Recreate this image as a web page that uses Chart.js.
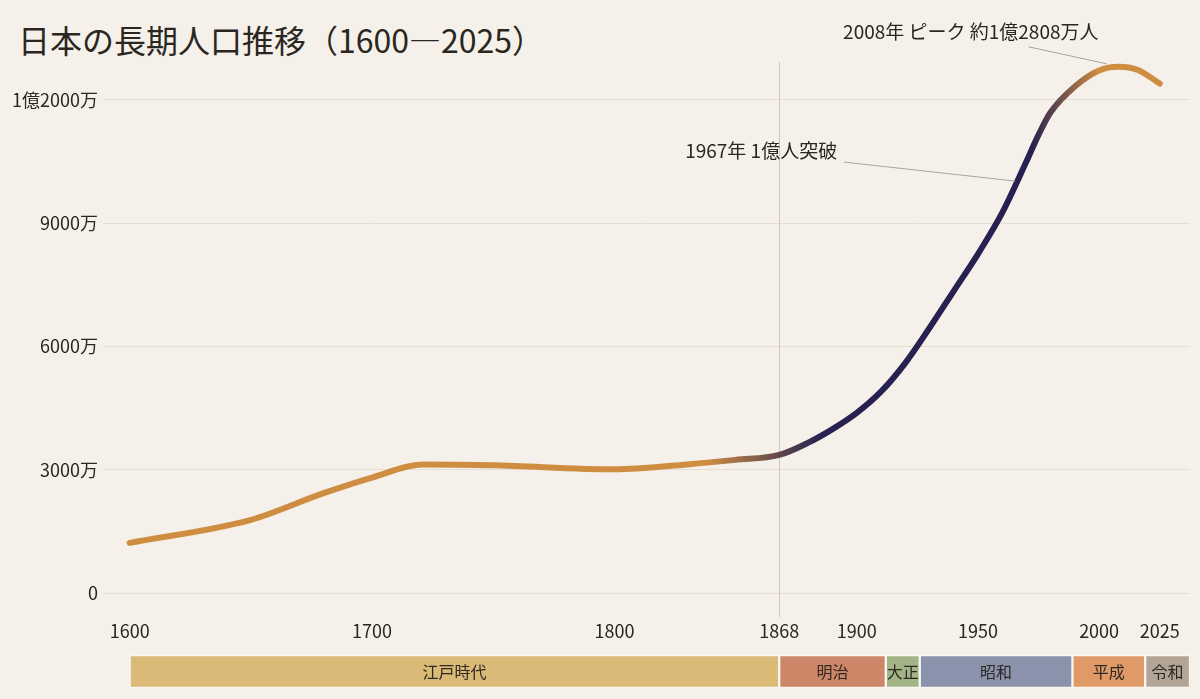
<!DOCTYPE html>
<html lang="ja">
<head>
<meta charset="utf-8">
<title>日本の長期人口推移</title>
<script src="https://cdn.jsdelivr.net/npm/chart.js@4.4.1/dist/chart.umd.min.js"></script>
<style>
  html, body { margin: 0; padding: 0; background: #f5f1ea; }
  body { width: 1200px; height: 699px; position: relative; overflow: hidden;
         font-family: "Noto Sans CJK JP", "Noto Sans", sans-serif; }
  h1 { position: absolute; left: 18px; top: 20px; margin: 0; font-size: 32px;
       font-weight: 400; color: #2b2620; line-height: 1.2; }
  #main { position: absolute; left: 0; top: 0; width: 1200px; height: 650px; }
  #eras { position: absolute; left: 0; top: 650px; width: 1200px; height: 49px; }
</style>
</head>
<body>
<h1>日本の長期人口推移（1600—2025）</h1>
<div id="main"><canvas id="c1"></canvas></div>
<div id="eras"><canvas id="c2"></canvas></div>
<script>
// 人口（万人）
const years = [1600, 1650, 1680, 1700, 1721, 1750, 1800, 1830, 1850, 1868, 1880, 1890, 1900,
  1910, 1920, 1930, 1940, 1950, 1960, 1970, 1975, 1980, 1990, 2000, 2008, 2016, 2025];
const population = [1220, 1780, 2430, 2810, 3128, 3110, 3010, 3130, 3240, 3360, 3660, 3990, 4385,
  4900, 5596, 6450, 7350, 8250, 9250, 10500, 11150, 11700, 12330, 12720, 12808, 12730, 12400];

const xTicks = [1600, 1700, 1800, 1868, 1900, 1950, 2000, 2025];
const yTicks = [0, 3000, 6000, 9000, 12000];

// 時代区分
const eras = ['江戸時代', '明治', '大正', '昭和', '平成', '令和'];
const eraStart = [1600, 1868, 1912, 1926, 1989, 2019];
const eraEnd = [1868, 1912, 1926, 1989, 2019, 2037.5];
const eraColors = ['#dbb977', '#ce8668', '#a3b487', '#8a92ac', '#e09a68', '#b2a596'];

const X_MIN = 1589, X_MAX = 2037.5;
const FONT = '"Noto Sans CJK JP", "Noto Sans", sans-serif';
const ORANGE = '#cf8d42';
const NAVY = '#262150';

Chart.defaults.font.family = FONT;
Chart.defaults.color = '#3a342c';

function fmtMan(v) {
  if (v === 0) return '0';
  if (v >= 10000) return Math.floor(v / 10000) + '億' + (v % 10000) + '万';
  return v + '万';
}

function lineGradient(context) {
  const chart = context.chart;
  const area = chart.chartArea;
  if (!area) return ORANGE;
  const g = chart.ctx.createLinearGradient(area.left, 0, area.right, 0);
  const f = y => (y - X_MIN) / (X_MAX - X_MIN);
  g.addColorStop(0, ORANGE);
  g.addColorStop(f(1838), ORANGE);
  g.addColorStop(f(1885), NAVY);
  g.addColorStop(f(1972), NAVY);
  g.addColorStop(f(2000), ORANGE);
  g.addColorStop(1, ORANGE);
  return g;
}

// 1868年の縦線と注記
const notes = {
  id: 'notes',
  beforeDatasetsDraw(chart) {
    const { ctx, scales: { x } } = chart;
    const px = Math.round(x.getPixelForValue(1868)) + 0.5;
    ctx.save();
    ctx.strokeStyle = '#cdc6bb';
    ctx.lineWidth = 1;
    ctx.beginPath();
    ctx.moveTo(px, chart.chartArea.top - 1);
    ctx.lineTo(px, chart.chartArea.bottom + 24);
    ctx.stroke();
    ctx.restore();
  },
  afterDatasetsDraw(chart) {
    const { ctx, scales: { x, y } } = chart;
    ctx.save();
    ctx.font = '19px ' + FONT;
    ctx.fillStyle = '#2b2620';
    ctx.strokeStyle = '#aaa398';
    ctx.lineWidth = 1;
    ctx.textBaseline = 'middle';

    // ピーク
    let px = x.getPixelForValue(2008), py = y.getPixelForValue(12808);
    ctx.beginPath();
    ctx.moveTo(px - 90, py - 20);
    ctx.lineTo(px - 12, py - 3);
    ctx.stroke();
    ctx.textAlign = 'right';
    ctx.fillText('2008年 ピーク 約1億2808万人', px - 20, py - 35);

    // 1億人突破
    px = x.getPixelForValue(1967); py = y.getPixelForValue(10050);
    ctx.beginPath();
    ctx.moveTo(px - 175, py - 18);
    ctx.lineTo(px - 4, py + 1);
    ctx.stroke();
    ctx.fillText('1967年 1億人突破', px - 182, py - 29);
    ctx.restore();
  }
};

new Chart(document.getElementById('c1'), {
  type: 'line',
  data: {
    datasets: [{
      label: '人口',
      data: years.map((yr, i) => ({ x: yr, y: population[i] })),
      borderColor: lineGradient,
      borderWidth: 6,
      borderCapStyle: 'round',
      borderJoinStyle: 'round',
      cubicInterpolationMode: 'monotone',
      pointRadius: 0,
      fill: false
    }]
  },
  options: {
    responsive: true,
    maintainAspectRatio: false,
    animation: false,
    layout: { padding: { top: 63, right: 10, bottom: 8, left: 0 } },
    plugins: { legend: { display: false }, tooltip: { enabled: false } },
    scales: {
      x: {
        type: 'linear',
        min: X_MIN,
        max: X_MAX,
        afterBuildTicks: s => { s.ticks = xTicks.map(v => ({ value: v })); },
        afterFit: s => { s.height = 49; s.paddingLeft = 0; s.paddingRight = 0; },
        grid: { display: false, drawTicks: false },
        border: { display: false },
        ticks: {
          padding: 27,
          font: { size: 18 },
          color: '#2b2620',
          autoSkip: false,
          maxRotation: 0,
          callback: v => String(v)
        }
      },
      y: {
        min: 0,
        max: 12900,
        afterBuildTicks: s => { s.ticks = yTicks.map(v => ({ value: v })); },
        afterFit: s => { s.width = 103; s.paddingTop = 0; s.paddingBottom = 0; },
        grid: { color: '#e4ded4', lineWidth: 1, drawTicks: false },
        border: { display: false },
        ticks: {
          padding: 5,
          font: { size: 18 },
          color: '#2b2620',
          callback: v => fmtMan(v)
        }
      }
    }
  },
  plugins: [notes]
});

// 時代帯のラベル
const eraLabels = {
  id: 'eraLabels',
  afterDatasetsDraw(chart) {
    const { ctx } = chart;
    ctx.save();
    ctx.font = '16px ' + FONT;
    ctx.fillStyle = '#2e2923';
    ctx.textAlign = 'center';
    ctx.textBaseline = 'middle';
    chart.getDatasetMeta(0).data.forEach((bar, i) => {
      ctx.fillText(eras[i], (bar.x + bar.base) / 2, bar.y);
    });
    ctx.restore();
  }
};

new Chart(document.getElementById('c2'), {
  type: 'bar',
  data: {
    labels: ['時代'],
    datasets: [{
      data: eras.map((e, i) => ({ y: '時代', x: [eraStart[i], eraEnd[i]] })),
      backgroundColor: eraColors,
      borderColor: '#faf7f2',
      borderWidth: 1.5,
      borderSkipped: false,
      barPercentage: 1,
      categoryPercentage: 1
    }]
  },
  options: {
    indexAxis: 'y',
    responsive: true,
    maintainAspectRatio: false,
    animation: false,
    layout: { padding: { top: 5, right: 10, bottom: 11, left: 103 } },
    plugins: { legend: { display: false }, tooltip: { enabled: false } },
    scales: {
      x: { type: 'linear', min: X_MIN, max: X_MAX, display: false },
      y: { display: false }
    }
  },
  plugins: [eraLabels]
});
</script>
</body>
</html>
